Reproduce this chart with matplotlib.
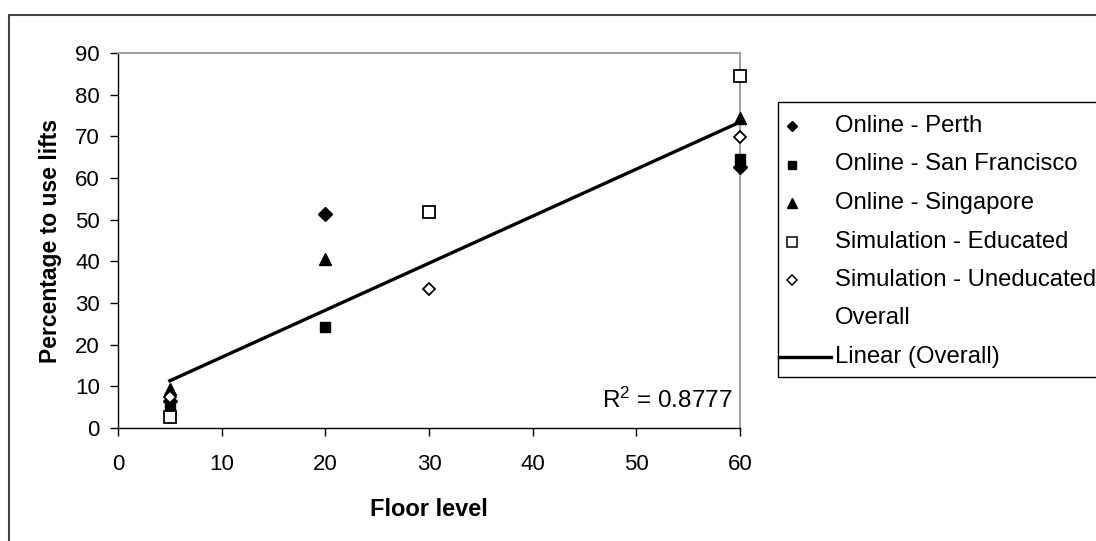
import numpy as np
import matplotlib
matplotlib.use("Agg")
import matplotlib.pyplot as plt
from matplotlib.lines import Line2D
from matplotlib.patches import Rectangle

plt.rcParams['font.family'] = ['Liberation Sans', 'DejaVu Sans']
plt.rcParams['mathtext.fontset'] = 'custom'
plt.rcParams['mathtext.rm'] = 'Liberation Sans'
plt.rcParams['mathtext.it'] = 'Liberation Sans'

# Survey / simulation results: share of people choosing the lift, by floor level
perth_x = [5, 20, 60]
perth_y = [6.5, 51.4, 62.6]
sf_x = [5, 20, 60]
sf_y = [4.5, 24.2, 64.5]
sing_x = [5, 20, 60]
sing_y = [9.3, 40.6, 74.4]
edu_x = [5, 30, 60]
edu_y = [2.7, 51.8, 84.5]
unedu_x = [5, 30, 60]
unedu_y = [7.5, 33.4, 69.8]

series_labels = ['Online - Perth', 'Online - San Francisco', 'Online - Singapore',
                 'Simulation - Educated', 'Simulation - Uneducated', 'Overall', 'Linear (Overall)']
r_squared_label = r"R$^2$ = 0.8777"
x_ticks = [0, 10, 20, 30, 40, 50, 60]
y_ticks = [0, 10, 20, 30, 40, 50, 60, 70, 80, 90]

W, H = 1096, 541
fig = plt.figure(figsize=(W / 100, H / 100), dpi=100)
ax = fig.add_axes([118 / W, 113 / H, (740 - 118) / W, (428 - 53) / H])

styles = [
    dict(marker='D', ms=6.8, color='black'),
    dict(marker='s', ms=7.2, color='black'),
    dict(marker='^', ms=8.2, color='black'),
    dict(marker='s', ms=8.0, mfc='white', mec='black', mew=1.3),
    dict(marker='D', ms=6.0, mfc='white', mec='black', mew=1.3),
]
for (xs, ys), st in zip([(perth_x, perth_y), (sf_x, sf_y), (sing_x, sing_y),
                         (edu_x, edu_y), (unedu_x, unedu_y)], styles):
    ax.plot(xs, ys, linestyle='none', clip_on=False, zorder=3, **st)

# Linear trend over all observations pooled together
all_x = np.array(perth_x + sf_x + sing_x + edu_x + unedu_x, dtype=float)
all_y = np.array(perth_y + sf_y + sing_y + edu_y + unedu_y, dtype=float)
slope, intercept = np.polyfit(all_x, all_y, 1)
fx = np.array([all_x.min(), all_x.max()])
ax.plot(fx, slope * fx + intercept, color='black', lw=2.4, zorder=2)

ax.set_xlim(0, 60)
ax.set_ylim(0, 90)
ax.set_xticks(x_ticks)
ax.set_yticks(y_ticks)
ax.tick_params(direction='out', length=6, width=1, colors='black', labelsize=16)
ax.tick_params(axis='x', pad=13)
ax.tick_params(axis='y', pad=7)
for s in ['top', 'right']:
    ax.spines[s].set_color('#a0a0a0')
    ax.spines[s].set_linewidth(1.4)
for s in ['left', 'bottom']:
    ax.spines[s].set_color('black')
    ax.spines[s].set_linewidth(1.0)

ax.set_xlabel('Floor level', fontsize=17, fontweight='bold', labelpad=16)
ax.set_ylabel('Percentage to use lifts', fontsize=16.5, fontweight='bold', labelpad=9.5)

ax.text(0.988, 0.075, r_squared_label, transform=ax.transAxes, ha='right', va='center', fontsize=17.5)

# Legend box, laid out in figure pixels
def fx_(px):
    return px / W

def fy_(py):
    return 1 - py / H

fig.patches.append(Rectangle((fx_(778), fy_(377)), 1.0, (377 - 102) / H, transform=fig.transFigure,
                             fill=False, edgecolor='black', lw=1.0))
row_y = [126, 164.5, 203, 241.5, 280, 318, 356.5]
leg_styles = [
    dict(marker='D', ms=5.5, color='black'),
    dict(marker='s', ms=6.0, color='black'),
    dict(marker='^', ms=7.0, color='black'),
    dict(marker='s', ms=6.5, mfc='white', mec='black', mew=1.1),
    dict(marker='D', ms=5.0, mfc='white', mec='black', mew=1.1),
    None,
    'line',
]
for label, py, st in zip(series_labels, row_y, leg_styles):
    if st == 'line':
        fig.lines.append(Line2D([fx_(779), fx_(831)], [fy_(py), fy_(py)], transform=fig.transFigure,
                                color='black', lw=2.4))
    elif st is not None:
        fig.lines.append(Line2D([fx_(792)], [fy_(py)], transform=fig.transFigure,
                                linestyle='none', **st))
    fig.text(fx_(835), fy_(py), label, ha='left', va='center', fontsize=17.2)

# outer chart frame
fig.patches.append(Rectangle((9 / W, -0.1), 1.2, 0.1 + 526 / H, transform=fig.transFigure,
                             fill=False, edgecolor='#444444', lw=1.5))

fig.savefig('out.png', dpi=100)
